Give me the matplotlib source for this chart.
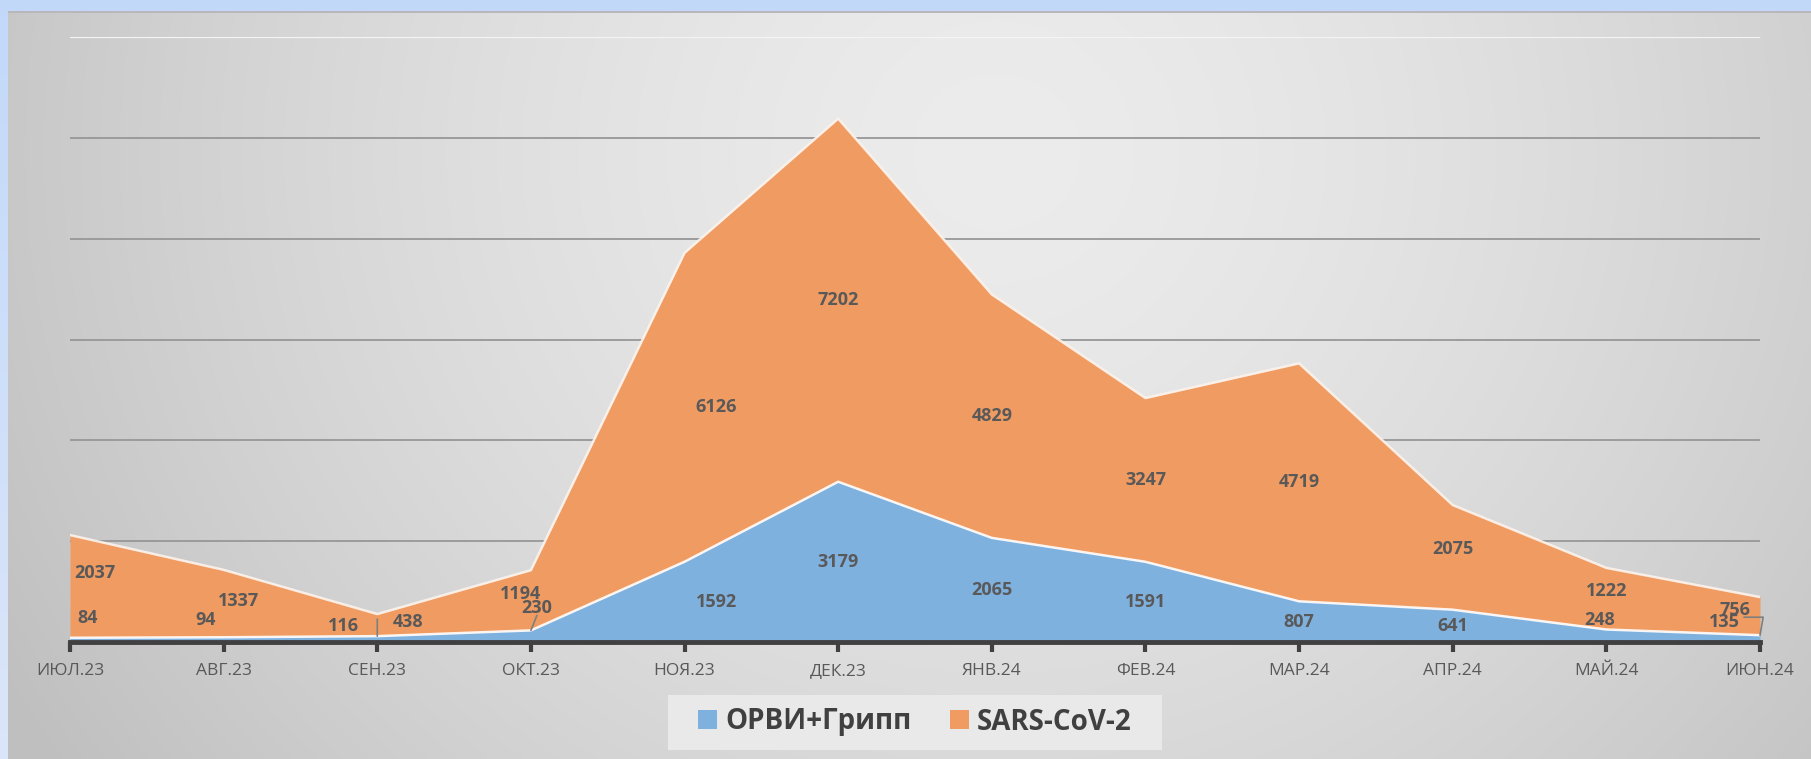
import numpy as np
import matplotlib
matplotlib.use("Agg")
import matplotlib.pyplot as plt
from matplotlib.patches import Patch, Rectangle

categories = ["ИЮЛ.23", "АВГ.23", "СЕН.23", "ОКТ.23", "НОЯ.23", "ДЕК.23",
              "ЯНВ.24", "ФЕВ.24", "МАР.24", "АПР.24", "МАЙ.24", "ИЮН.24"]
orvi = [84, 94, 116, 230, 1592, 3179, 2065, 1591, 807, 641, 248, 135]
sars = [2037, 1337, 438, 1194, 6126, 7202, 4829, 3247, 4719, 2075, 1222, 756]
series_names = ["ОРВИ+Грипп", "SARS-CoV-2"]

BLUE = "#7fb1df"
ORANGE = "#ef9b61"
TXT = "#595959"

plt.rcParams['font.family'] = ['Open Sans', 'DejaVu Sans']

W, H = 1811, 759
fig = plt.figure(figsize=(W / 100, H / 100), dpi=100)

# background image
yy, xx = np.mgrid[0:H, 0:W]
nx = xx / W
ny = yy / H
r = np.sqrt(((nx - 0.55) / 0.62) ** 2 + ((ny - 0.2) / 1.4) ** 2)
g = np.clip(0.925 - 0.17 * r ** 1.5, 0.75, 0.93)
img = np.stack([g, g, g], axis=-1)
blue_bg = np.stack([0.76 + 0.1 * ny, 0.85 + 0.05 * ny, 0.98 + 0 * ny], axis=-1)
outside = (xx < 8) | (yy < 11)
img[outside] = blue_bg[outside]
border = (yy >= 11) & (yy <= 12) & (xx >= 8)
img[border] = [0.72, 0.72, 0.74]
bgax = fig.add_axes([0, 0, 1, 1])
bgax.imshow(img, aspect='auto', extent=(0, 1, 0, 1), interpolation='bilinear')
bgax.axis('off')

x0, x1 = 70, 1760
ybase, ytop = 642, 37
ax = fig.add_axes([x0 / W, (H - ybase) / H, (x1 - x0) / W, (ybase - ytop) / H])
ax.patch.set_alpha(0)

x = np.arange(len(categories))
orvi_a = np.array(orvi, dtype=float)
sars_a = np.array(sars, dtype=float)
top = orvi_a + sars_a

ax.set_xlim(0, len(categories) - 1)
ax.set_ylim(0, 12000)

for yv in range(2000, 12000, 2000):
    ax.axhline(yv, color="#979797", lw=1.3, zorder=1)
ax.axhline(12000, color="#f4f4f4", lw=1.6, zorder=1)

ax.fill_between(x, 0, orvi_a, color=BLUE, lw=0, zorder=2)
ax.fill_between(x, orvi_a, top, color=ORANGE, lw=0, zorder=2)
ax.plot(x, orvi_a, color="white", lw=1.8, alpha=0.9, zorder=3)
ax.plot(x, top, color="#fdf3ec", lw=1.8, alpha=0.9, zorder=3)

for s in ["top", "left", "right"]:
    ax.spines[s].set_visible(False)
ax.spines["bottom"].set_color("#404040")
ax.spines["bottom"].set_linewidth(3.5)
ax.spines["bottom"].set_zorder(5)
ax.set_yticks([])
ax.set_xticks(x)
ax.set_xticklabels(categories, fontsize=12.5, color=TXT)
ax.tick_params(axis='x', direction='out', length=7, width=3, color="#404040", pad=8)

# data label adjustments (pixel offsets from the area centre)
blue_adj = {0: (18, 22), 1: (-18, 20), 2: (-34, 13), 3: (6, 28), 4: (32, 0),
            10: (-7, 16), 11: (-36, 17)}
orng_adj = {0: (25, 13), 1: (15, 3), 2: (31, 3), 3: (-10, 6), 4: (32, 0),
            10: (0, 8), 11: (-25, 6), 9: (0, 8)}

lab_kw = dict(fontsize=13, fontweight='bold', color=TXT, ha='center', va='center',
              textcoords='offset pixels', zorder=6)
for i in x:
    dx, dy = blue_adj.get(i, (0, 0))
    ax.annotate(str(orvi[i]), (i, orvi_a[i] / 2), xytext=(dx, dy), **lab_kw)
    dx, dy = orng_adj.get(i, (0, 0))
    ax.annotate(str(sars[i]), (i, orvi_a[i] + sars_a[i] / 2), xytext=(dx, dy), **lab_kw)

# leader lines
ax.annotate("", xy=(2, orvi_a[2]), xytext=(0, 17), textcoords='offset pixels',
            xycoords='data', arrowprops=dict(arrowstyle='-', color="#7f7f7f", lw=1.2,
                                             shrinkA=0, shrinkB=0), zorder=6)
ax.annotate("", xy=(3, orvi_a[3]), xytext=(6, 15), textcoords='offset pixels',
            arrowprops=dict(arrowstyle='-', color="#7f7f7f", lw=1.2, shrinkA=0, shrinkB=0), zorder=6)
ax.annotate("", xy=(11, orvi_a[11]), xytext=(-16, 18), textcoords='offset pixels',
            arrowprops=dict(arrowstyle='-', color="#7f7f7f", lw=1.2, shrinkA=0, shrinkB=0,
                            connectionstyle="angle,angleA=0,angleB=80,rad=0"), zorder=6)

# legend box
fig.patches.append(Rectangle((668 / W, (H - 750) / H), (1162 - 668) / W, 55 / H,
                             transform=fig.transFigure, facecolor="#e9e9e9",
                             edgecolor='none', zorder=1))
handles = [Patch(facecolor=BLUE, edgecolor='none'), Patch(facecolor=ORANGE, edgecolor='none')]
leg = fig.legend(handles, series_names, loc='center', bbox_to_anchor=(915 / W, (H - 722) / H),
                 ncol=2, frameon=False, handlelength=0.66, handleheight=0.66,
                 handletextpad=0.3, columnspacing=1.4, borderpad=0.3,
                 prop=dict(family=['Open Sans', 'DejaVu Sans'], weight='bold', size=20))
for t in leg.get_texts():
    t.set_color("#404040")

fig.savefig("out.png", dpi=100)
